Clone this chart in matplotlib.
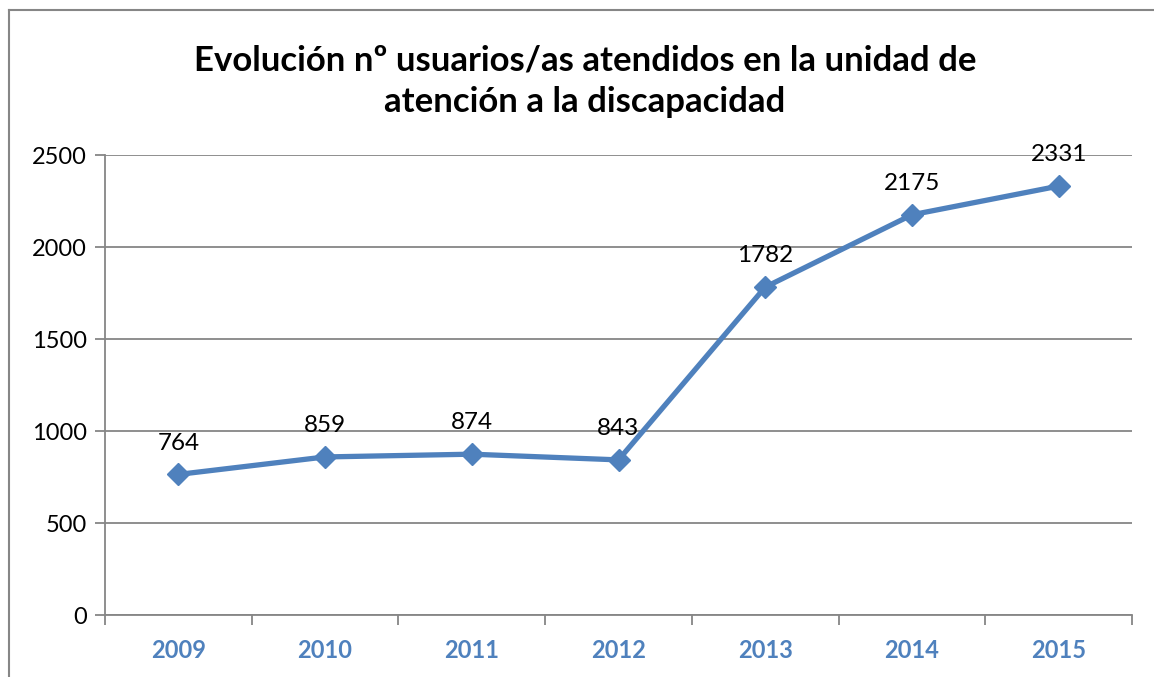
import matplotlib
matplotlib.use('Agg')
import matplotlib.pyplot as plt
from matplotlib.lines import Line2D

years = ['2009', '2010', '2011', '2012', '2013', '2014', '2015']
users = [764, 859, 874, 843, 1782, 2175, 2331]
yticks = [0, 500, 1000, 1500, 2000, 2500]
title = 'Evolución nº usuarios/as atendidos en la unidad de\natención a la discapacidad'

plt.rcParams['font.family'] = ['Lato', 'DejaVu Sans']

W, H = 1154, 677
fig = plt.figure(figsize=(W / 100, H / 100), dpi=100)
ax = fig.add_axes([105 / W, 1 - 615 / H, (1132 - 105) / W, (615 - 155) / H])

blue = '#4F81BD'
grey = '#868686'

x = list(range(len(years)))
ax.plot(x, users, color=blue, lw=3.8, marker='D', ms=11, mfc=blue, mec=blue, zorder=3)
for xi, v in zip(x, users):
    ax.annotate(str(v), (xi, v), xytext=(0, 15), textcoords='offset points',
                ha='center', va='bottom', fontsize=17.5, color='black', zorder=4)

ax.set_xlim(-0.5, len(years) - 0.5)
ax.set_ylim(0, 2500)
ax.set_yticks(yticks)
ax.set_yticklabels([str(t) for t in yticks], fontsize=17)
ax.yaxis.grid(True, color=grey, lw=1.3)
ax.set_axisbelow(True)

# category boundaries as major ticks, labels on minor ticks
ax.set_xticks([i - 0.5 for i in range(len(years) + 1)])
ax.set_xticklabels([])
ax.set_xticks(x, minor=True)
ax.set_xticklabels(years, minor=True, fontsize=17, fontweight='bold', color=blue)
ax.tick_params(axis='x', which='major', length=7, width=1.3, color=grey, direction='out')
ax.tick_params(axis='x', which='minor', length=0, pad=17)
ax.tick_params(axis='y', length=7, width=1.3, color=grey, pad=6)

for s in ['top', 'right']:
    ax.spines[s].set_visible(False)
for s in ['left', 'bottom']:
    ax.spines[s].set_color(grey)
    ax.spines[s].set_linewidth(1.3)

fig.text(585 / W, 1 - 81 / H, title, ha='center', va='center', fontsize=25,
         fontweight='bold', linespacing=1.35)

# chart border (left and top edges visible in the crop)
fig.add_artist(Line2D([9 / W, 9 / W], [0, 1 - 10 / H], transform=fig.transFigure, color=grey, lw=1.5))
fig.add_artist(Line2D([9 / W, 1], [1 - 10 / H, 1 - 10 / H], transform=fig.transFigure, color=grey, lw=1.5))

fig.savefig('out.png', dpi=100)
